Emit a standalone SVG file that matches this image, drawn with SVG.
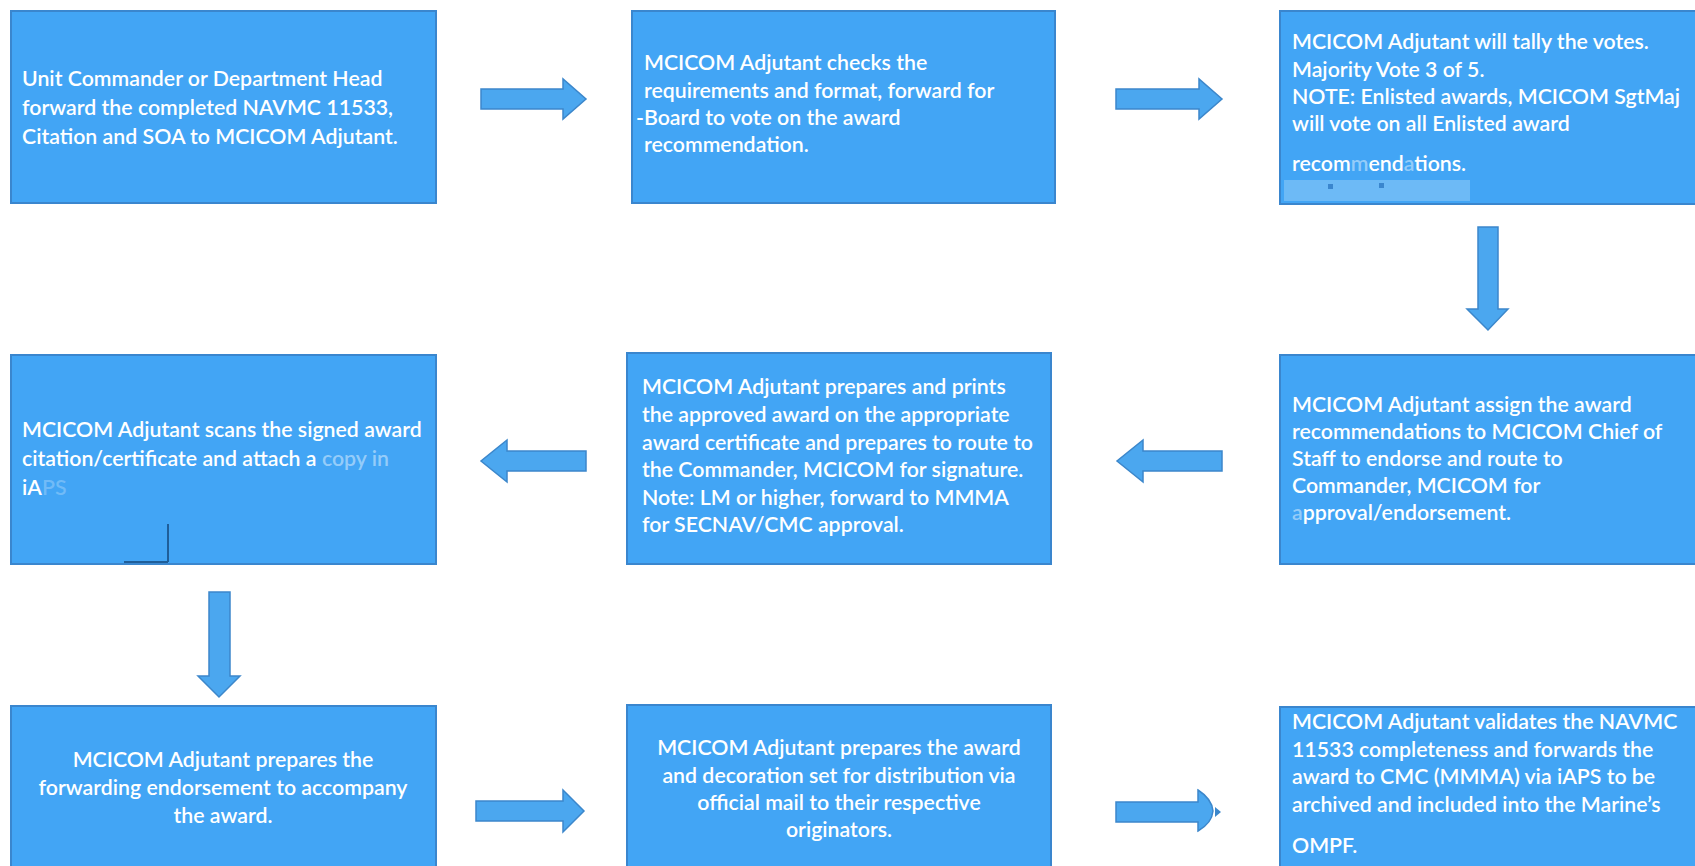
<svg xmlns="http://www.w3.org/2000/svg" width="1695" height="866" viewBox="0 0 1695 866">
<style>
.box{fill:#42A5F5;stroke:#3A86CE;stroke-width:2}
.t{font-family:Lato,"Open Sans","Liberation Sans",sans-serif;font-size:21.3px;font-weight:600;fill:#FFFFFF}
.c{text-anchor:middle}
.fade{fill-opacity:0.45}
.arr{fill:#4BA7EF;stroke:#3C87CB;stroke-width:1.5;stroke-linejoin:miter}
.art{fill:#6DBAF6}
</style>
<rect width="1695" height="866" fill="#FFFFFF"/>

<g id="connectors">
  <path class="arr" d="M481,89 H563 V79 L586,99 L563,119 V109 H481 Z"/>
  <path class="arr" d="M1116,89 H1199 V79 L1222,99 L1199,119 V109 H1116 Z"/>
  <path class="arr" d="M1478,227 H1498 V309 H1508 L1488,330 L1467,309 H1478 Z"/>
  <path class="arr" d="M586,451 H507 V440 L481,461 L507,482 V471 H586 Z"/>
  <path class="arr" d="M1222,451 H1143 V440 L1117,461 L1143,482 V471 H1222 Z"/>
  <path class="arr" d="M209,592 H230 V676 H240 L219,697 L198,676 H209 Z"/>
  <path class="arr" d="M476,801 H563 V790 L584,811 L563,832 V821 H476 Z"/>
  <path class="arr" d="M1116,802 H1198 V790 Q1212,799 1213,811 Q1212,823 1198,831 V822 H1116 Z"/>
  <path d="M1215,807 L1221,812 L1215,817 Z" fill="#3C87CB"/>
</g>

<g id="node1">
  <rect class="box" x="11" y="11" width="425" height="192"/>
  <text class="t"><tspan x="22" y="86">Unit Commander or Department Head</tspan><tspan x="22" y="115">forward the completed NAVMC 11533,</tspan><tspan x="22" y="144">Citation and SOA to MCICOM Adjutant.</tspan></text>
</g>

<g id="node2">
  <rect class="box" x="632" y="11" width="423" height="192"/>
  <text class="t"><tspan x="644" y="70">MCICOM Adjutant checks the</tspan><tspan x="644" y="98">requirements and format, forward for</tspan><tspan x="636" y="125">-Board to vote on the award</tspan><tspan x="644" y="152">recommendation.</tspan></text>
</g>

<g id="node3">
  <rect class="box" x="1280" y="11" width="420" height="193"/>
  <rect class="art" x="1284" y="180" width="186" height="21"/>
  <rect x="1328" y="184" width="5" height="5" fill="#3A86CE"/>
  <rect x="1379" y="183" width="5" height="5" fill="#3A86CE"/>
  <text class="t"><tspan x="1292" y="49">MCICOM Adjutant will tally the votes.</tspan><tspan x="1292" y="77">Majority Vote 3 of 5.</tspan><tspan x="1292" y="104">NOTE: Enlisted awards, MCICOM SgtMaj</tspan><tspan x="1292" y="131">will vote on all Enlisted award</tspan><tspan x="1292" y="171">recom<tspan class="fade">m</tspan>end<tspan class="fade">a</tspan>tions.</tspan></text>
</g>

<g id="node4">
  <rect class="box" x="11" y="355" width="425" height="209"/>
  <path d="M168,524 V562 M124,562 H168" stroke="#1F5E99" stroke-width="2" fill="none"/>
  <text class="t"><tspan x="22" y="437">MCICOM Adjutant scans the signed award</tspan><tspan x="22" y="466">citation/certificate and attach a <tspan class="fade">copy in</tspan></tspan><tspan x="22" y="495">iA<tspan fill-opacity="0.25">PS</tspan></tspan></text>
</g>

<g id="node5">
  <rect class="box" x="627" y="353" width="424" height="211"/>
  <text class="t"><tspan x="642" y="394">MCICOM Adjutant prepares and prints</tspan><tspan x="642" y="422">the approved award on the appropriate</tspan><tspan x="642" y="450">award certificate and prepares to route to</tspan><tspan x="642" y="477">the Commander, MCICOM for signature.</tspan><tspan x="642" y="505">Note: LM or higher, forward to MMMA</tspan><tspan x="642" y="532">for SECNAV/CMC approval.</tspan></text>
</g>

<g id="node6">
  <rect class="box" x="1280" y="355" width="420" height="209"/>
  <text class="t"><tspan x="1292" y="412">MCICOM Adjutant assign the award</tspan><tspan x="1292" y="439">recommendations to MCICOM Chief of</tspan><tspan x="1292" y="466">Staff to endorse and route to</tspan><tspan x="1292" y="493">Commander, MCICOM for</tspan><tspan x="1292" y="520"><tspan class="fade">a</tspan>pproval/endorsement.</tspan></text>
</g>

<g id="node7">
  <rect class="box" x="11" y="706" width="425" height="170"/>
  <text class="t c"><tspan x="223" y="767">MCICOM Adjutant prepares the</tspan><tspan x="223" y="795">forwarding endorsement to accompany</tspan><tspan x="223" y="823">the award.</tspan></text>
</g>

<g id="node8">
  <rect class="box" x="627" y="705" width="424" height="171"/>
  <text class="t c"><tspan x="839" y="755">MCICOM Adjutant prepares the award</tspan><tspan x="839" y="783">and decoration set for distribution via</tspan><tspan x="839" y="810">official mail to their respective</tspan><tspan x="839" y="837">originators.</tspan></text>
</g>

<g id="node9">
  <rect class="box" x="1280" y="707" width="420" height="169"/>
  <text class="t"><tspan x="1292" y="729">MCICOM Adjutant validates the NAVMC</tspan><tspan x="1292" y="757">11533 completeness and forwards the</tspan><tspan x="1292" y="784">award to CMC (MMMA) via iAPS to be</tspan><tspan x="1292" y="812">archived and included into the Marine’s</tspan><tspan x="1292" y="853">OMPF.</tspan></text>
</g>
</svg>
